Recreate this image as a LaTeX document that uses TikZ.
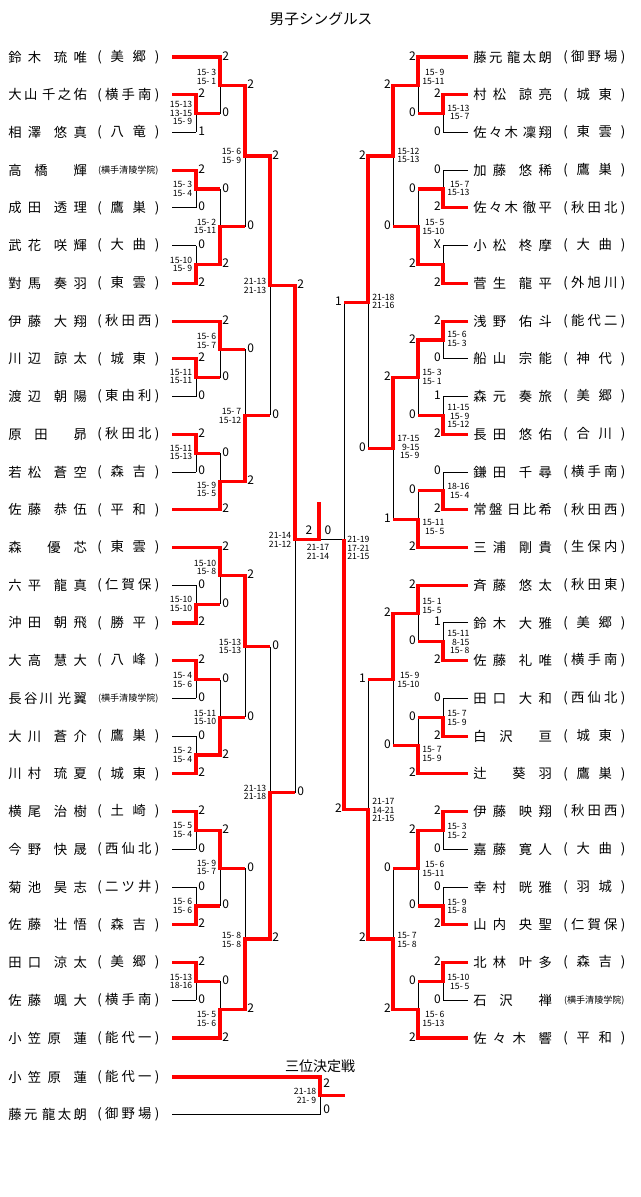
\documentclass[tikz,border=0pt]{standalone}
\usepackage{fontspec}
\setmainfont{Noto Sans CJK JP}
\usetikzlibrary{calc}
\newcommand\Stwo[2]{(\hfill #1\hfill #2\hfill)}
\newcommand\Sthree[3]{(\hfill #1\hfill #2\hfill #3\hfill)}
\newcommand\Ssix{{\fontsize{6.8}{8}\selectfont(横手清陵学院)}}
\newcommand\NL[3]{\node[nm] (Ln#1) at (8,{57+37.73*#1}) {\makebox[59pt]{#2}};
  \node[nm] (Ls#1) at (97,{57+37.73*#1}) {\makebox[46.5pt]{#3}};}
\newcommand\NR[3]{\node[nm] (Rn#1) at (473,{57+37.73*#1}) {\makebox[59pt]{#2}};
  \node[nm] (Rs#1) at (563,{57+37.73*#1}) {\makebox[46.5pt]{#3}};}
\newcommand\mtL[6]{%
  \path ($(#1)!.5!(#2)$) coordinate (tmp);
  \coordinate (#4) at (tmp -| #3);
  \draw[los] (#1 -| #3) -- (#2 -| #3);
  \node[cnt,anchor=west,xshift=1.5pt,yshift=1pt] (#4a) at (#1 -| #3) {#5};
  \node[cnt,anchor=west,xshift=1.5pt,yshift=1pt] (#4b) at (#2 -| #3) {#6};}
\newcommand\mtR[6]{%
  \path ($(#1)!.5!(#2)$) coordinate (tmp);
  \coordinate (#4) at (tmp -| #3);
  \draw[los] (#1 -| #3) -- (#2 -| #3);
  \node[cnt,anchor=east,xshift=-1.5pt,yshift=1pt] (#4a) at (#1 -| #3) {#5};
  \node[cnt,anchor=east,xshift=-1.5pt,yshift=1pt] (#4b) at (#2 -| #3) {#6};}
\newcommand\SL[4]{\node[sc,anchor=east] (#1) at (#2,#3) {#4};}
\newcommand\SR[4]{\node[sc,anchor=west] (#1) at (#2,#3) {#4};}
\tikzset{
  win/.style={draw=red, line width=2.35pt, line join=miter},
  los/.style={draw=black, line width=0.75pt},
  cnt/.style={font=\fontsize{9}{9}\selectfont, inner sep=0pt},
  sc/.style={font=\fontsize{6.5}{6.5}\selectfont, inner sep=0pt, align=right},
  nm/.style={font=\fontsize{10}{12}\selectfont, inner sep=0pt, anchor=west},
}
\begin{document}
\begin{tikzpicture}[x=0.75pt,y=-0.75pt]
\fill[white] (0,0) rectangle (640,1197);
\useasboundingbox (0,0) rectangle (640,1197);
% columns
\coordinate (lc1) at (196,0); \coordinate (lc2) at (220,0); \coordinate (lc3) at (245,0);
\coordinate (lc4) at (270,0); \coordinate (lc5) at (295,0);
\coordinate (rc1) at (443,0); \coordinate (rc2) at (418,0); \coordinate (rc3) at (393,0);
\coordinate (rc4) at (368,0); \coordinate (rc5) at (344,0);
\coordinate (fc) at (319,0);
\foreach \i in {0,...,26}{
  \coordinate (Lp\i) at (172,{57+37.73*\i});
  \coordinate (Rp\i) at (468,{57+37.73*\i});
}
% ---------- left matches
\mtL{Lp1}{Lp2}{lc1}{la1}{2}{1}
\mtL{Lp0}{la1}{lc2}{la2}{2}{0}
\mtL{Lp3}{Lp4}{lc1}{la3}{2}{0}
\mtL{Lp5}{Lp6}{lc1}{la4}{0}{2}
\mtL{la3}{la4}{lc2}{la5}{0}{2}
\mtL{la2}{la5}{lc3}{la6}{2}{0}
\mtL{Lp8}{Lp9}{lc1}{la7}{2}{0}
\mtL{Lp7}{la7}{lc2}{la8}{2}{0}
\mtL{Lp10}{Lp11}{lc1}{la9}{2}{0}
\mtL{la9}{Lp12}{lc2}{la10}{0}{2}
\mtL{la8}{la10}{lc3}{la11}{0}{2}
\mtL{la6}{la11}{lc4}{la12}{2}{0}
\mtL{Lp14}{Lp15}{lc1}{la13}{0}{2}
\mtL{Lp13}{la13}{lc2}{la14}{2}{0}
\mtL{Lp16}{Lp17}{lc1}{la15}{2}{0}
\mtL{Lp18}{Lp19}{lc1}{la16}{0}{2}
\mtL{la15}{la16}{lc2}{la17}{0}{2}
\mtL{la14}{la17}{lc3}{la18}{2}{0}
\mtL{Lp20}{Lp21}{lc1}{la19}{2}{0}
\mtL{Lp22}{Lp23}{lc1}{la20}{0}{2}
\mtL{la19}{la20}{lc2}{la21}{2}{0}
\mtL{Lp24}{Lp25}{lc1}{la22}{2}{0}
\mtL{la22}{Lp26}{lc2}{la23}{0}{2}
\mtL{la21}{la23}{lc3}{la24}{0}{2}
\mtL{la18}{la24}{lc4}{la25}{0}{2}
\mtL{la12}{la25}{lc5}{la26}{2}{0}
% ---------- right matches
\mtR{Rp1}{Rp2}{rc1}{ra1}{2}{0}
\mtR{Rp0}{ra1}{rc2}{ra2}{2}{0}
\mtR{Rp3}{Rp4}{rc1}{ra3}{0}{2}
\mtR{Rp5}{Rp6}{rc1}{ra4}{X}{2}
\mtR{ra3}{ra4}{rc2}{ra5}{0}{2}
\mtR{ra2}{ra5}{rc3}{ra6}{2}{0}
\mtR{Rp7}{Rp8}{rc1}{ra7}{2}{0}
\mtR{Rp9}{Rp10}{rc1}{ra8}{1}{2}
\mtR{ra7}{ra8}{rc2}{ra9}{2}{0}
\mtR{Rp11}{Rp12}{rc1}{ra10}{0}{2}
\mtR{ra10}{Rp13}{rc2}{ra11}{0}{2}
\mtR{ra9}{ra11}{rc3}{ra12}{2}{1}
\mtR{ra6}{ra12}{rc4}{ra13}{2}{0}
\mtR{Rp15}{Rp16}{rc1}{ra14}{1}{2}
\mtR{Rp14}{ra14}{rc2}{ra15}{2}{0}
\mtR{Rp17}{Rp18}{rc1}{ra16}{0}{2}
\mtR{ra16}{Rp19}{rc2}{ra17}{0}{2}
\mtR{ra15}{ra17}{rc3}{ra18}{2}{0}
\mtR{Rp20}{Rp21}{rc1}{ra19}{2}{0}
\mtR{Rp22}{Rp23}{rc1}{ra20}{0}{2}
\mtR{ra19}{ra20}{rc2}{ra21}{2}{0}
\mtR{Rp24}{Rp25}{rc1}{ra22}{2}{0}
\mtR{ra22}{Rp26}{rc2}{ra23}{0}{2}
\mtR{ra21}{ra23}{rc3}{ra24}{0}{2}
\mtR{ra18}{ra24}{rc4}{ra25}{1}{2}
% right semifinal (junction at the final line)
\coordinate (ra26) at (la26 -| rc5);
\draw[los] (ra13 -| rc5) -- (ra25 -| rc5);
\node[cnt,anchor=east,xshift=-1.5pt,yshift=1pt] (ra26a) at (ra13 -| rc5) {1};
\node[cnt,anchor=east,xshift=-1.5pt,yshift=1pt] (ra26b) at (ra25 -| rc5) {2};
\coordinate (fin) at (la26 -| fc);
\coordinate (champ) at (319,502);
\draw[los] (fin) -- (ra26);
% ---------- first-round losers
\foreach \p/\m in {2/la1,4/la3,5/la4,9/la7,11/la9,14/la13,17/la15,18/la16,21/la19,22/la20,25/la22}
  \draw[los] (Lp\p) -- (Lp\p -| \m);
\foreach \p/\m in {2/ra1,3/ra3,5/ra4,8/ra7,9/ra8,11/ra10,15/ra14,17/ra16,21/ra19,22/ra20,25/ra22}
  \draw[los] (Rp\p) -- (Rp\p -| \m);
% ---------- winners' paths, left
\draw[win] (Lp0) -| (la2) -| (la6) -| (la12) -| (la26) -- (fin) -- (champ);
\draw[win] (Lp1) -| (la1) -- (la1 -| la2);
\draw[win] (Lp3) -| (la3) -- (la3 -| la5);
\draw[win] (Lp6) -| (la4) -| (la5) -- (la5 -| la6);
\draw[win] (Lp7) -| (la8) -- (la8 -| la11);
\draw[win] (Lp8) -| (la7) -- (la7 -| la8);
\draw[win] (Lp10) -| (la9) -- (la9 -| la10);
\draw[win] (Lp12) -| (la10) -| (la11) -- (la11 -| la12);
\draw[win] (Lp13) -| (la14) -| (la18) -- (la18 -| la25);
\draw[win] (Lp15) -| (la13) -- (la13 -| la14);
\draw[win] (Lp16) -| (la15) -- (la15 -| la17);
\draw[win] (Lp19) -| (la16) -| (la17) -- (la17 -| la18);
\draw[win] (Lp20) -| (la19) -| (la21) -- (la21 -| la24);
\draw[win] (Lp23) -| (la20) -- (la20 -| la21);
\draw[win] (Lp24) -| (la22) -- (la22 -| la23);
\draw[win] (Lp26) -| (la23) -| (la24) -| (la25) -- (la25 -| la26);
% ---------- winners' paths, right
\draw[win] (Rp0) -| (ra2) -| (ra6) -| (ra13) -- (ra13 -| ra26);
\draw[win] (Rp1) -| (ra1) -- (ra1 -| ra2);
\draw[win] (Rp4) -| (ra3) -- (ra3 -| ra5);
\draw[win] (Rp6) -| (ra4) -| (ra5) -- (ra5 -| ra6);
\draw[win] (Rp7) -| (ra7) -| (ra9) -| (ra12) -- (ra12 -| ra13);
\draw[win] (Rp10) -| (ra8) -- (ra8 -| ra9);
\draw[win] (Rp12) -| (ra10) -- (ra10 -| ra11);
\draw[win] (Rp13) -| (ra11) -- (ra11 -| ra12);
\draw[win] (Rp14) -| (ra15) -| (ra18) -- (ra18 -| ra25);
\draw[win] (Rp16) -| (ra14) -- (ra14 -| ra15);
\draw[win] (Rp18) -| (ra16) -- (ra16 -| ra17);
\draw[win] (Rp19) -| (ra17) -- (ra17 -| ra18);
\draw[win] (Rp20) -| (ra19) -| (ra21) -- (ra21 -| ra24);
\draw[win] (Rp23) -| (ra20) -- (ra20 -| ra21);
\draw[win] (Rp24) -| (ra22) -- (ra22 -| ra23);
\draw[win] (Rp26) -| (ra23) -| (ra24) -| (ra25) -| (ra26);
% ---------- final
\node[cnt] (f2) at (309,530) {2};
\node[cnt] (f0) at (328,530) {0};
\node[sc,align=center] (fsc) at (318,552) {21-17\\21-14};
% ---------- third place
\coordinate (Tp1) at (172,1077); \coordinate (Tp2) at (172,1114.5);
\coordinate (tj) at (320,1095.75); \coordinate (tout) at (345,1095.75);
\draw[los] (Tp1 -| tj) -- (Tp2 -| tj);
\draw[los] (Tp2) -- (Tp2 -| tj);
\draw[win] (Tp1) -| (tj) -- (tout);
\node[cnt,anchor=west] (t2) at (323,1083) {2};
\node[cnt,anchor=west] (t0) at (323,1109) {0};
\node[sc,anchor=east] (tsc) at (316.5,1096) {21-18\\21- 9};
\node[font=\fontsize{10.5}{12}\selectfont, inner sep=0pt] (t3title) at (320,1066) {三位決定戦};
\node[font=\fontsize{11}{12}\selectfont, inner sep=0pt] (title) at (321,19) {男子シングルス};
% ---------- score labels, left
\SL{sla1}{192.5}{113}{15-13\\13-15\\15- 9}
\SL{sla2}{216.5}{77}{15- 3\\15- 1}
\SL{sla3}{192.5}{189}{15- 3\\15- 4}
\SL{sla4}{192.5}{264.5}{15-10\\15- 9}
\SL{sla5}{216.5}{226.5}{15- 2\\15-11}
\SL{sla6}{241.5}{156}{15- 6\\15- 9}
\SL{sla7}{192.5}{376.5}{15-11\\15-11}
\SL{sla8}{216.5}{341}{15- 6\\15- 7}
\SL{sla9}{192.5}{452.5}{15-11\\15-13}
\SL{sla10}{216.5}{489.5}{15- 9\\15- 5}
\SL{sla11}{241.5}{416}{15- 7\\15-12}
\SL{sla12}{266.5}{286}{21-13\\21-13}
\SL{sla13}{192.5}{604}{15-10\\15-10}
\SL{sla14}{216.5}{567.5}{15-10\\15- 8}
\SL{sla15}{192.5}{680}{15- 4\\15- 6}
\SL{sla16}{192.5}{755}{15- 2\\15- 4}
\SL{sla17}{216.5}{717.5}{15-11\\15-10}
\SL{sla18}{241.5}{646.5}{15-13\\15-13}
\SL{sla19}{192.5}{830}{15- 5\\15- 4}
\SL{sla20}{192.5}{906}{15- 6\\15- 6}
\SL{sla21}{216.5}{867.5}{15- 9\\15- 7}
\SL{sla22}{192.5}{981.5}{15-13\\18-16}
\SL{sla23}{216.5}{1019}{15- 5\\15- 6}
\SL{sla24}{241.5}{940}{15- 8\\15- 8}
\SL{sla25}{266.5}{792.5}{21-13\\21-18}
\SL{sla26}{291.5}{540}{21-14\\21-12}
% ---------- score labels, right
\SR{sra1}{447}{112.5}{15-13\\15- 7}
\SR{sra2}{422}{77}{15- 9\\15-11}
\SR{sra3}{447}{188.5}{15- 7\\15-13}
\SR{sra5}{422}{227}{15- 5\\15-10}
\SR{sra6}{397}{155.5}{15-12\\15-13}
\SR{sra7}{447}{339}{15- 6\\15- 3}
\SR{sra8}{447}{416}{11-15\\15- 9\\15-12}
\SR{sra9}{422}{377}{15- 3\\15- 1}
\SR{sra10}{447}{491}{18-16\\15- 4}
\SR{sra11}{422}{527}{15-11\\15- 5}
\SR{sra12}{397}{447}{17-15\\ 9-15\\15- 9}
\SR{sra13}{372}{301.5}{21-18\\21-16}
\SR{sra14}{447}{642}{15-11\\ 8-15\\15- 8}
\SR{sra15}{422}{606}{15- 1\\15- 5}
\SR{sra16}{447}{718}{15- 7\\15- 9}
\SR{sra17}{422}{754}{15- 7\\15- 9}
\SR{sra18}{397}{680}{15- 9\\15-10}
\SR{sra19}{447}{831}{15- 3\\15- 2}
\SR{sra20}{447}{906.5}{15- 9\\15- 8}
\SR{sra21}{422}{869}{15- 6\\15-11}
\SR{sra22}{447}{982}{15-10\\15- 5}
\SR{sra23}{422}{1019}{15- 6\\15-13}
\SR{sra24}{397}{940}{15- 7\\15- 8}
\SR{sra25}{372}{810}{21-17\\14-21\\21-15}
\SR{sra26}{347}{548}{21-19\\17-21\\21-15}
% ---------- names, left
\NL{0}{鈴\hfill 木\hfill\hfill 琉\hfill 唯}{\Stwo{美}{郷}}
\NL{1}{大\hfill 山\hfill\hfill 千\hfill 之\hfill 佑}{\Sthree{横}{手}{南}}
\NL{2}{相\hfill 澤\hfill\hfill 悠\hfill 真}{\Stwo{八}{竜}}
\NL{3}{高\hfill 橋\hfill\hfill 輝}{\Ssix}
\NL{4}{成\hfill 田\hfill\hfill 透\hfill 理}{\Stwo{鷹}{巣}}
\NL{5}{武\hfill 花\hfill\hfill 咲\hfill 輝}{\Stwo{大}{曲}}
\NL{6}{對\hfill 馬\hfill\hfill 奏\hfill 羽}{\Stwo{東}{雲}}
\NL{7}{伊\hfill 藤\hfill\hfill 大\hfill 翔}{\Sthree{秋}{田}{西}}
\NL{8}{川\hfill 辺\hfill\hfill 諒\hfill 太}{\Stwo{城}{東}}
\NL{9}{渡\hfill 辺\hfill\hfill 朝\hfill 陽}{\Sthree{東}{由}{利}}
\NL{10}{原\hfill 田\hfill\hfill 昴}{\Sthree{秋}{田}{北}}
\NL{11}{若\hfill 松\hfill\hfill 蒼\hfill 空}{\Stwo{森}{吉}}
\NL{12}{佐\hfill 藤\hfill\hfill 恭\hfill 伍}{\Stwo{平}{和}}
\NL{13}{森\hfill\hfill 優\hfill 芯}{\Stwo{東}{雲}}
\NL{14}{六\hfill 平\hfill\hfill 龍\hfill 真}{\Sthree{仁}{賀}{保}}
\NL{15}{沖\hfill 田\hfill\hfill 朝\hfill 飛}{\Stwo{勝}{平}}
\NL{16}{大\hfill 高\hfill\hfill 慧\hfill 大}{\Stwo{八}{峰}}
\NL{17}{長\hfill 谷\hfill 川\hfill\hfill 光\hfill 翼}{\Ssix}
\NL{18}{大\hfill 川\hfill\hfill 蒼\hfill 介}{\Stwo{鷹}{巣}}
\NL{19}{川\hfill 村\hfill\hfill 琉\hfill 夏}{\Stwo{城}{東}}
\NL{20}{横\hfill 尾\hfill\hfill 治\hfill 樹}{\Stwo{土}{崎}}
\NL{21}{今\hfill 野\hfill\hfill 快\hfill 晟}{\Sthree{西}{仙}{北}}
\NL{22}{菊\hfill 池\hfill\hfill 昊\hfill 志}{\Sthree{二}{ツ}{井}}
\NL{23}{佐\hfill 藤\hfill\hfill 壮\hfill 悟}{\Stwo{森}{吉}}
\NL{24}{田\hfill 口\hfill\hfill 涼\hfill 太}{\Stwo{美}{郷}}
\NL{25}{佐\hfill 藤\hfill\hfill 颯\hfill 大}{\Sthree{横}{手}{南}}
\NL{26}{小\hfill 笠\hfill 原\hfill\hfill 蓮}{\Sthree{能}{代}{一}}
% ---------- names, right
\NR{0}{藤\hfill 元\hfill\hfill 龍\hfill 太\hfill 朗}{\Sthree{御}{野}{場}}
\NR{1}{村\hfill 松\hfill\hfill 諒\hfill 亮}{\Stwo{城}{東}}
\NR{2}{佐\hfill 々\hfill 木\hfill\hfill 凜\hfill 翔}{\Stwo{東}{雲}}
\NR{3}{加\hfill 藤\hfill\hfill 悠\hfill 稀}{\Stwo{鷹}{巣}}
\NR{4}{佐\hfill 々\hfill 木\hfill\hfill 徹\hfill 平}{\Sthree{秋}{田}{北}}
\NR{5}{小\hfill 松\hfill\hfill 柊\hfill 摩}{\Stwo{大}{曲}}
\NR{6}{菅\hfill 生\hfill\hfill 龍\hfill 平}{\Sthree{外}{旭}{川}}
\NR{7}{浅\hfill 野\hfill\hfill 佑\hfill 斗}{\Sthree{能}{代}{二}}
\NR{8}{船\hfill 山\hfill\hfill 宗\hfill 能}{\Stwo{神}{代}}
\NR{9}{森\hfill 元\hfill\hfill 奏\hfill 旅}{\Stwo{美}{郷}}
\NR{10}{長\hfill 田\hfill\hfill 悠\hfill 佑}{\Stwo{合}{川}}
\NR{11}{鎌\hfill 田\hfill\hfill 千\hfill 尋}{\Sthree{横}{手}{南}}
\NR{12}{常\hfill 盤\hfill\hfill 日\hfill 比\hfill 希}{\Sthree{秋}{田}{西}}
\NR{13}{三\hfill 浦\hfill\hfill 剛\hfill 貴}{\Sthree{生}{保}{内}}
\NR{14}{斉\hfill 藤\hfill\hfill 悠\hfill 太}{\Sthree{秋}{田}{東}}
\NR{15}{鈴\hfill 木\hfill\hfill 大\hfill 雅}{\Stwo{美}{郷}}
\NR{16}{佐\hfill 藤\hfill\hfill 礼\hfill 唯}{\Sthree{横}{手}{南}}
\NR{17}{田\hfill 口\hfill\hfill 大\hfill 和}{\Sthree{西}{仙}{北}}
\NR{18}{白\hfill 沢\hfill\hfill 亘}{\Stwo{城}{東}}
\NR{19}{辻\hfill\hfill 葵\hfill 羽}{\Stwo{鷹}{巣}}
\NR{20}{伊\hfill 藤\hfill\hfill 映\hfill 翔}{\Sthree{秋}{田}{西}}
\NR{21}{嘉\hfill 藤\hfill\hfill 寛\hfill 人}{\Stwo{大}{曲}}
\NR{22}{幸\hfill 村\hfill\hfill 晄\hfill 雅}{\Stwo{羽}{城}}
\NR{23}{山\hfill 内\hfill\hfill 央\hfill 聖}{\Sthree{仁}{賀}{保}}
\NR{24}{北\hfill 林\hfill\hfill 叶\hfill 多}{\Stwo{森}{吉}}
\NR{25}{石\hfill 沢\hfill\hfill 禅}{\Ssix}
\NR{26}{佐\hfill 々\hfill 木\hfill\hfill 響}{\Stwo{平}{和}}
% ---------- third-place names
\node[nm] (Tn1) at (8,1077) {\makebox[59pt]{小\hfill 笠\hfill 原\hfill\hfill 蓮}};
\node[nm] (Ts1) at (97,1077) {\makebox[46.5pt]{\Sthree{能}{代}{一}}};
\node[nm] (Tn2) at (8,1114.5) {\makebox[59pt]{藤\hfill 元\hfill\hfill 龍\hfill 太\hfill 朗}};
\node[nm] (Ts2) at (97,1114.5) {\makebox[46.5pt]{\Sthree{御}{野}{場}}};
\end{tikzpicture}
\end{document}
